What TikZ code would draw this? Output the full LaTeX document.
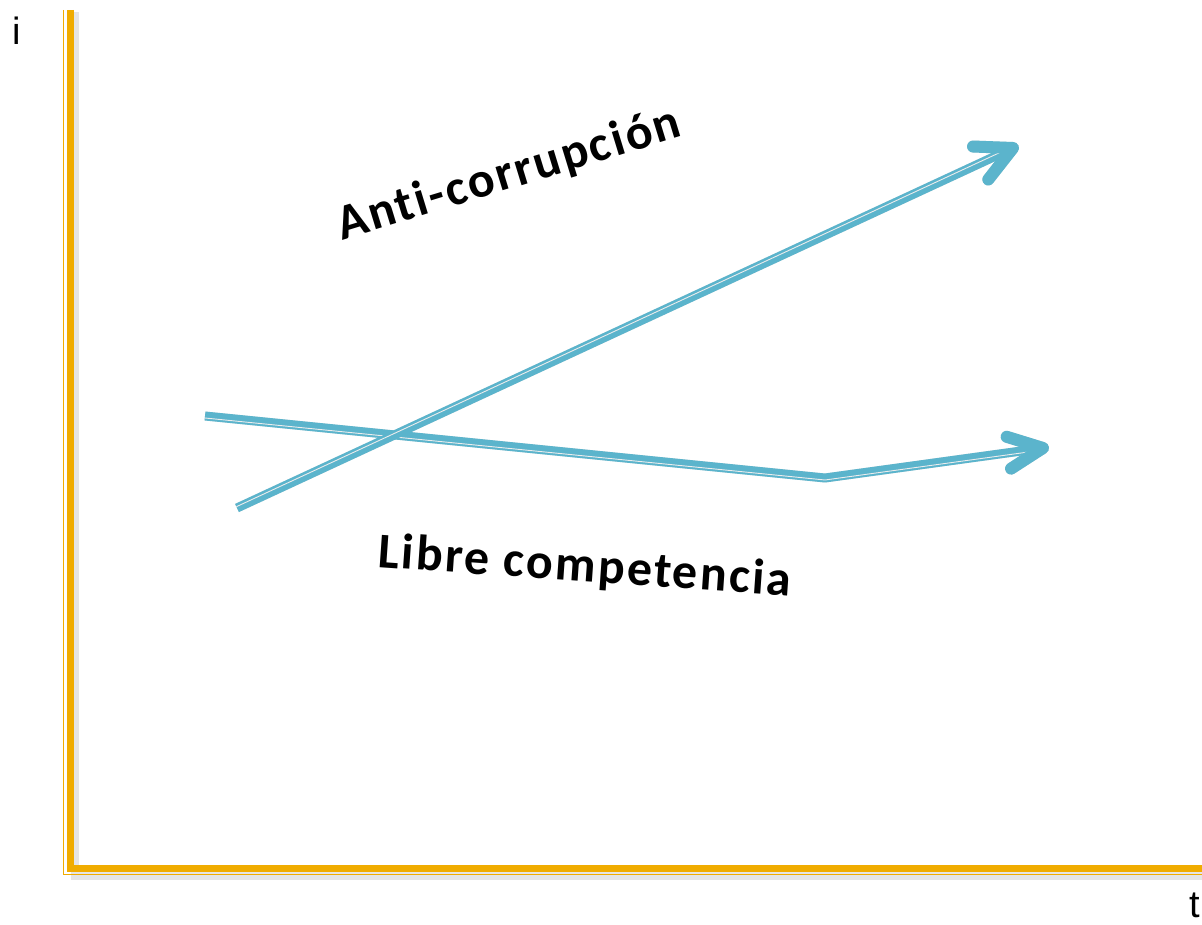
\documentclass[tikz,border=0pt]{standalone}
\usepackage{fontspec}
\setmainfont{Liberation Sans}
\newfontfamily\lblfont[LetterSpace=4.5,Ligatures={NoCommon,NoRequired,NoContextual}]{Carlito}
\usetikzlibrary{calc}
\definecolor{axisor}{HTML}{F0AC00}
\definecolor{trendblue}{HTML}{5BB4CC}
\tikzset{
  axthick/.style={axisor, line width=7pt},
  axthin/.style={axisor, line width=1.6pt},
  axshadow/.style={black!10, line width=8pt},
  trend/.style={trendblue, line width=9pt, line join=round},
  trendhi/.style={white!85!gray, line width=0.9pt, line join=round},
  trendshadow/.style={black!12, line width=9pt, line join=round},
  headline/.style={trendblue, line width=12pt, line cap=round, line join=round},
  headshadow/.style={black!12, line width=12pt, line cap=round, line join=round},
  lbl/.style={font=\lblfont\bfseries\fontsize{50}{60}\selectfont, inner sep=0pt},
  axlbl/.style={font=\fontsize{38}{44}\selectfont, inner sep=0pt}
}
\begin{document}
\begin{tikzpicture}[x=1pt,y=-1pt]
\useasboundingbox (0,0) rectangle (1202,925);
% axes
\coordinate (vtop) at (70,10);
\coordinate (corner) at (70,868.5);
\coordinate (hend) at (1202,868.5);
\draw[axshadow] (75,12) -- (75,876) -- (1202,876);
\draw[axthin] (63.5,10) -- (63.5,874.3) -- (1202,874.3);
\draw[axthick] (vtop) -- (corner) -- (hend);
\node[axlbl, anchor=north] (ilbl) at (17,17) {i};
\node[axlbl, anchor=north west] (tlbl) at (1189,893) {t};
% anti-corruption arrow
\coordinate (a0) at (237,508);
\coordinate (a1) at (1013,148);
\coordinate (a1b) at ($(a1)!12pt!(a0)$);
\coordinate (ah1) at ($(a1)!40pt!27:(a0)$);
\coordinate (ah2) at ($(a1)!40pt!-27:(a0)$);
% libre competencia arrow
\coordinate (b0) at (205,416);
\coordinate (b1) at (825,478);
\coordinate (b2) at (1043,448);
\coordinate (b2b) at ($(b2)!12pt!(b1)$);
\coordinate (bh1) at ($(b2)!38pt!25:(b1)$);
\coordinate (bh2) at ($(b2)!38pt!-25:(b1)$);
% shadows
\begin{scope}[shift={(3,5)}]
\draw[trendshadow] (a0) -- (a1b);
\draw[headshadow] (ah1) -- (a1) -- (ah2);
\draw[trendshadow] (b0) -- (b1) -- (b2b);
\draw[headshadow] (bh1) -- (b2) -- (bh2);
\end{scope}
% lines
\draw[trend] (b0) -- (b1) -- (b2b);
\draw[trendhi] ($(b0)+(0,2)$) -- ($(b1)+(0,2)$) -- ($(b2b)+(0,2)$);
\draw[headline] (bh1) -- (b2) -- (bh2);
\draw[trend] (a0) -- (a1b);
\draw[trendhi] ($(a0)+(-0.6,-1.3)$) -- ($(a1b)+(-0.6,-1.3)$);
\draw[headline] (ah1) -- (a1) -- (ah2);
% labels
\node[lbl, rotate=17] (anti) at (509,175) {Anti-corrupción};
\node[lbl, rotate=-4] (libre) at (585,568) {Libre competencia};
\end{tikzpicture}
\end{document}
